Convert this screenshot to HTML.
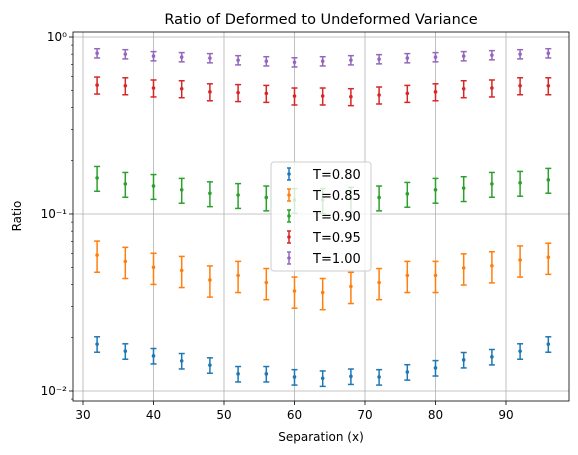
<!DOCTYPE html>
<html><head><meta charset="utf-8"><style>
body{margin:0;background:#fff;}
svg{display:block;font-family:"DejaVu Sans","Liberation Sans",sans-serif;}
</style></head><body>
<svg id="c" width="578" height="455"></svg>
<script>
const xs=[32,36,40,44,48,52,56,60,64,68,72,76,80,84,88,92,96];
const labels=["T=0.80","T=0.85","T=0.90","T=0.95","T=1.00"];
const colors=["#1f77b4","#ff7f0e","#2ca02c","#d62728","#9467bd"];
const v080=[0.0184,0.0168,0.0158,0.0148,0.0140,0.0125,0.0125,0.0120,0.0118,0.0121,0.0120,0.0128,0.0135,0.0150,0.0156,0.0168,0.0184];
const v085=[0.0586,0.054,0.050,0.048,0.0424,0.045,0.041,0.0367,0.036,0.039,0.041,0.045,0.045,0.0496,0.051,0.055,0.057];
const v090=[0.160,0.148,0.144,0.137,0.131,0.128,0.124,0.120,0.120,0.122,0.124,0.130,0.137,0.140,0.148,0.150,0.156];
const v095=[0.535,0.53,0.515,0.51,0.49,0.485,0.48,0.464,0.464,0.46,0.47,0.48,0.49,0.51,0.515,0.53,0.53];
const v100=[0.81,0.80,0.78,0.77,0.76,0.74,0.73,0.72,0.73,0.74,0.75,0.76,0.77,0.78,0.79,0.80,0.81];
const relErr=[0.10,0.20,0.16,0.11,0.06];
const series=[v080,v085,v090,v095,v100];
const xTicks=[30,40,50,60,70,80,90];
const yTicks=[0.01,0.1,1];
const yTickLabels=["10\u207B\u00B2","10\u207B\u00B9","10\u2070"];
const L=73,R=569,T=32,B=401;
const X=v=>83+(v-30)*(423/60);
const Y=v=>391-(Math.log10(v)+2)*177;
const NS="http://www.w3.org/2000/svg";
const svg=document.getElementById('c');
function mk(tag,attrs,parent){const e=document.createElementNS(NS,tag);for(const k in attrs)e.setAttribute(k,attrs[k]);(parent||svg).appendChild(e);return e;}
// grid
xTicks.forEach(t=>{const g=mk('line',{x1:X(t),x2:X(t),y1:T,y2:B,stroke:'#b0b0b0','stroke-width':0.8});


mk('line',{x1:X(t),x2:X(t),y1:B,y2:B+4,stroke:'#000','stroke-width':0.8});
const tx=mk('text',{x:X(t),y:B+18,'text-anchor':'middle','font-size':12});tx.textContent=t;

});
yTicks.forEach((t,i)=>{mk('line',{x1:L,x2:R,y1:Y(t),y2:Y(t),stroke:'#b0b0b0','stroke-width':0.8});
mk('line',{x1:L-4,x2:L,y1:Y(t),y2:Y(t),stroke:'#000','stroke-width':0.8});
const tx=mk('text',{x:L-6,y:Y(t)+4,'text-anchor':'end','font-size':12});tx.textContent=yTickLabels[i];

});
// minor ticks
for(let d=-3;d<=0;d++)for(let m=2;m<10;m++){const v=m*Math.pow(10,d);const y=Y(v);if(y>T&&y<B)mk('line',{x1:L-2,x2:L,y1:y,y2:y,stroke:'#000','stroke-width':0.6});}
// series
series.forEach((s,si)=>{const g=mk('g',{});


s.forEach((v,i)=>{const x=X(xs[i]),e=relErr[si]*v,y1=Y(v+e),y2=Y(v-e),c=colors[si];
mk('line',{x1:x,x2:x,y1:y1,y2:y2,stroke:c,'stroke-width':1.5},g);
mk('line',{x1:x-3,x2:x+3,y1:y1,y2:y1,stroke:c,'stroke-width':1.5},g);
mk('line',{x1:x-3,x2:x+3,y1:y2,y2:y2,stroke:c,'stroke-width':1.5},g);
const p=mk('circle',{cx:x,cy:Y(v),r:1.8,fill:c},g);

});});
// frame
const fr=mk('rect',{x:L,y:T,width:R-L,height:B-T,fill:'none',stroke:'#000','stroke-width':0.8});


// legend
const lg=mk('g',{});


mk('rect',{x:271,y:162,width:100,height:109,rx:3,fill:'#fff','fill-opacity':0.8,stroke:'#ccc'},lg);
labels.forEach((lb,i)=>{const y=174+i*21,c=colors[i];
mk('line',{x1:289,x2:289,y1:y-6,y2:y+6,stroke:c,'stroke-width':1.5},lg);
mk('line',{x1:287,x2:291,y1:y-6,y2:y-6,stroke:c,'stroke-width':1.5},lg);
mk('line',{x1:287,x2:291,y1:y+6,y2:y+6,stroke:c,'stroke-width':1.5},lg);
mk('circle',{cx:289,cy:y,r:1.8,fill:c},lg);
const t=mk('text',{x:313,y:y+5,'font-size':13},lg);t.textContent=lb;

});
// titles
let t=mk('text',{x:321,y:24,'text-anchor':'middle','font-size':14.5});t.textContent="Ratio of Deformed to Undeformed Variance";


t=mk('text',{x:321,y:441,'text-anchor':'middle','font-size':12});t.textContent="Separation (x)";


t=mk('text',{x:21,y:216,'text-anchor':'middle','font-size':12,transform:'rotate(-90 21 216)'});t.textContent="Ratio";


</script>
</body></html>
